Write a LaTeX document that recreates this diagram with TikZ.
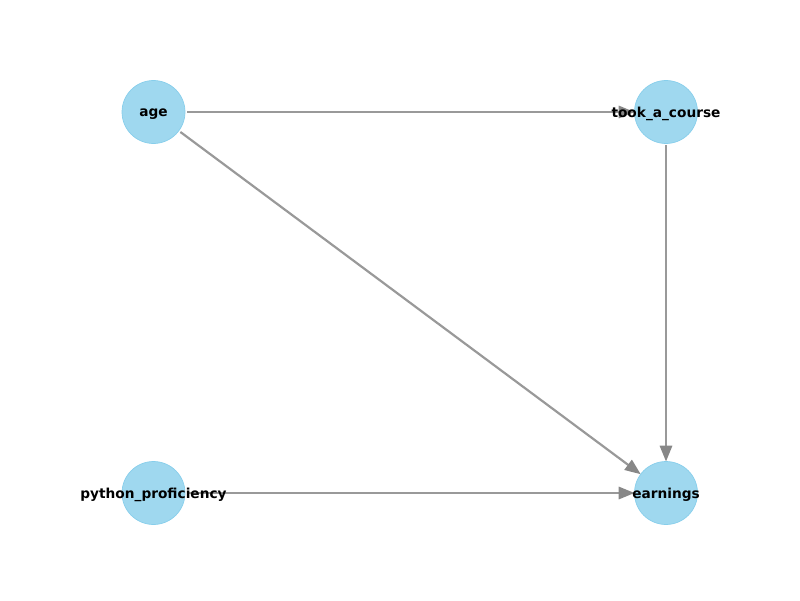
\documentclass[tikz,border=0pt]{standalone}
\usepackage{fontspec}
\newfontfamily\labelfont{DejaVu Sans}
\usetikzlibrary{positioning,arrows.meta,backgrounds}
\definecolor{skyblue}{RGB}{135,206,235}
\tikzset{
    on grid,
    node distance=3cm,
    varnode/.style = {
        draw=skyblue,
        fill=skyblue!80,
        shape=circle,
        minimum size=1.26cm,
        inner sep=0pt,
        outer sep=0pt,
        line width=0.4pt
    },
    varname/.style = {
        font=\labelfont\bfseries\fontsize{7.8}{9}\selectfont,
        inner sep=0pt,
        yshift=-0.04cm
    },
    causal/.style = {
        draw=black!40,
        line width=1.25pt,
        shorten <=0.04cm
    },
    >={Triangle[length=9pt,width=7pt,color=black!47]},
}

\begin{document}
\begin{tikzpicture}
            \useasboundingbox (0,0) rectangle (16,12);
            \node[varnode, label={[varname]center:age}] (age) at (3.07,9.76) {};
            \node[varnode, label={[varname]center:took\_a\_course}, right=10.25cm of age] (took) {};
            \node[varnode, label={[varname]center:python\_proficiency}, below=7.62cm of age] (python) {};
            \node[varnode, label={[varname]center:earnings}, right=10.25cm of python] (earnings) {};

            \begin{pgfonlayer}{background}
            \path[causal, ->] (age) -- (took);
            \path[causal, ->] (age) -- (earnings);
            \path[causal, ->] (took) -- (earnings);
            \path[causal, ->] (python) -- (earnings);
            \end{pgfonlayer}
        \end{tikzpicture}
\end{document}
